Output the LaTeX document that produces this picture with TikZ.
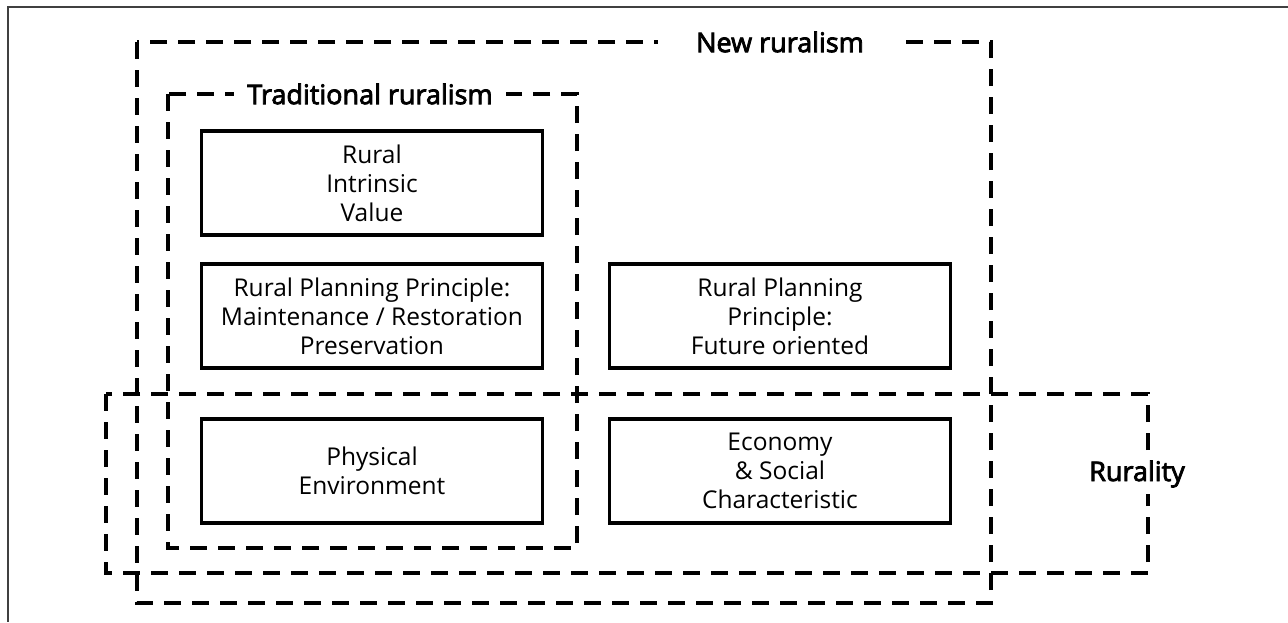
\documentclass[tikz,border=0pt]{standalone}
\usepackage{fontspec}
\setmainfont{Open Sans}
\newfontfamily\lblfont[FakeBold=3]{Open Sans}
\begin{document}
\begin{tikzpicture}[x=1pt,y=-1pt,
  groupline/.style={line width=3.6pt, dash pattern=on 17pt off 11pt, line cap=butt},
  itembox/.style={draw, line width=3.2pt, minimum width=341pt, minimum height=104pt,
    align=center, font=\fontsize{24.5}{29}\selectfont, inner sep=0pt},
  grouplabel/.style={fill=white, font=\lblfont\fontsize{27}{30}\selectfont, inner ysep=2pt}]
\useasboundingbox (0,0) rectangle (1288,622);
\coordinate (ftl) at (8,7);
\coordinate (ftr) at (1288,7);
\coordinate (fbl) at (8,622);
\draw[black!75, line width=1.6pt] (ftr) -- (ftl) -- (fbl);

\draw[groupline] (137,42) rectangle (991,603);
\draw[groupline] (168,94) rectangle (577,548);
\draw[groupline] (106,394) rectangle (1148,573);

\node[grouplabel, inner xsep=38pt] (newr) at (780,42) {New ruralism};
\node[grouplabel, inner xsep=13pt] (tradr) at (370,94) {Traditional ruralism};
\node[grouplabel, inner xsep=2pt, inner ysep=6pt] (rural) at (1137,474) {Rurality};

\node[itembox] (intr) at (372,183) {Rural\\Intrinsic\\Value};
\node[itembox] (maint) at (372,316) {Rural Planning Principle:\\Maintenance / Restoration\\Preservation};
\node[itembox] (fut) at (780,316) {Rural Planning\\Principle:\\Future oriented};
\node[itembox] (phys) at (372,471) {Physical\\Environment};
\node[itembox] (econ) at (780,471) {Economy\\\& Social\\Characteristic};
\end{tikzpicture}
\end{document}
